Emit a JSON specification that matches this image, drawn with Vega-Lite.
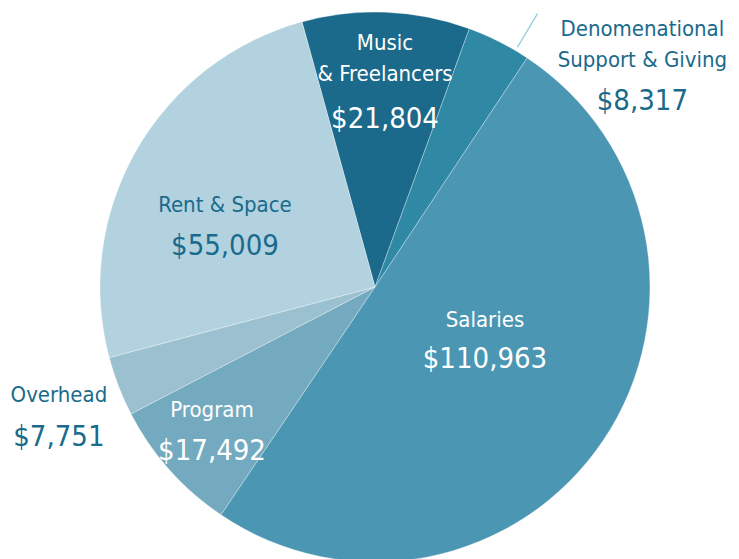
{
  "$schema": "https://vega.github.io/schema/vega-lite/v6.json",
  "width": 728,
  "height": 542,
  "autosize": {"type": "none"},
  "padding": {"left": 11, "top": 16, "right": 0, "bottom": 1},
  "background": "white",
  "config": {"view": {"stroke": null}, "text": {"font": "DejaVu Sans Condensed, Roboto, sans-serif"}},
  "data": {
    "values": [
      {"category": "Music", "label": "Music\n& Freelancers", "value": 21804, "rank": 1},
      {"category": "Denomenational", "label": "Denomenational\nSupport & Giving", "value": 8317, "rank": 2},
      {"category": "Salaries", "label": "Salaries", "value": 110963, "rank": 3},
      {"category": "Program", "label": "Program", "value": 17492, "rank": 4},
      {"category": "Overhead", "label": "Overhead", "value": 7751, "rank": 5},
      {"category": "Rent", "label": "Rent & Space", "value": 55009, "rank": 6}
    ]
  },
  "encoding": {
    "theta": {"field": "value", "type": "quantitative", "stack": true, "scale": {"range": [-0.2688, 6.0144]}},
    "order": {"field": "rank", "type": "quantitative"},
    "detail": {"field": "category", "type": "nominal"}
  },
  "layer": [
    {
      "mark": {"type": "arc", "outerRadius": 275, "stroke": "#ffffff", "strokeWidth": 0.6, "strokeOpacity": 0.5},
      "encoding": {
        "color": {
          "field": "category", "type": "nominal", "legend": null,
          "scale": {
            "domain": ["Music", "Denomenational", "Salaries", "Program", "Overhead", "Rent"],
            "range": ["#1b6a8c", "#2f89a5", "#4b96b3", "#74aabf", "#9bc1d0", "#b2d2df"]
          }
        }
      }
    },
    {
      "transform": [
        {"window": [{"op": "sum", "field": "value", "as": "cum"}], "sort": [{"field": "rank", "order": "ascending"}]},
        {"filter": "datum.rank === 2"}
      ],
      "mark": {"type": "arc", "outerRadius": 318, "innerRadius": 279, "fill": "transparent", "stroke": "#8fcbe3", "strokeWidth": 1.2, "thetaOffset": -0.05, "theta2Offset": -0.05},
      "encoding": {
        "theta": {"field": "cum", "type": "quantitative", "stack": null, "scale": {"range": [-0.2688, 6.0144]}},
        "theta2": {"field": "cum"}
      }
    },
    {
      "mark": {"type": "text", "radius": 197, "dx": 2, "dy": -40, "fontSize": 22, "lineBreak": "\n", "lineHeight": 31, "fill": "#ffffff", "align": "center", "baseline": "alphabetic"},
      "encoding": {"text": {"condition": {"test": "datum.rank === 1", "field": "label"}, "value": ""}}
    },
    {
      "mark": {"type": "text", "radius": 197, "dx": 2, "dy": 38, "fontSize": 29, "fill": "#ffffff", "align": "center", "baseline": "alphabetic"},
      "encoding": {"text": {"condition": {"test": "datum.rank === 1", "field": "value", "type": "quantitative", "format": "$,.0f"}, "value": ""}}
    },
    {
      "mark": {"type": "text", "radius": 260, "dx": 150, "dy": -19, "fontSize": 22, "lineBreak": "\n", "lineHeight": 31, "fill": "#1a6a8c", "align": "center", "baseline": "alphabetic"},
      "encoding": {"text": {"condition": {"test": "datum.rank === 2", "field": "label"}, "value": ""}}
    },
    {
      "mark": {"type": "text", "radius": 260, "dx": 150, "dy": 55, "fontSize": 29, "fill": "#1a6a8c", "align": "center", "baseline": "alphabetic"},
      "encoding": {"text": {"condition": {"test": "datum.rank === 2", "field": "value", "type": "quantitative", "format": "$,.0f"}, "value": ""}}
    },
    {
      "mark": {"type": "text", "radius": 132.4, "dx": 0, "dy": -34, "fontSize": 22, "fill": "#ffffff", "align": "center", "baseline": "alphabetic"},
      "encoding": {"text": {"condition": {"test": "datum.rank === 3", "field": "label"}, "value": ""}}
    },
    {
      "mark": {"type": "text", "radius": 132.4, "dx": 0, "dy": 7, "fontSize": 29, "fill": "#ffffff", "align": "center", "baseline": "alphabetic"},
      "encoding": {"text": {"condition": {"test": "datum.rank === 3", "field": "value", "type": "quantitative", "format": "$,.0f"}, "value": ""}}
    },
    {
      "mark": {"type": "text", "radius": 218.3, "dx": 0, "dy": -15, "fontSize": 22, "fill": "#ffffff", "align": "center", "baseline": "alphabetic"},
      "encoding": {"text": {"condition": {"test": "datum.rank === 4", "field": "label"}, "value": ""}}
    },
    {
      "mark": {"type": "text", "radius": 218.3, "dx": 0, "dy": 28, "fontSize": 29, "fill": "#ffffff", "align": "center", "baseline": "alphabetic"},
      "encoding": {"text": {"condition": {"test": "datum.rank === 4", "field": "value", "type": "quantitative", "format": "$,.0f"}, "value": ""}}
    },
    {
      "mark": {"type": "text", "radius": 339, "dx": 0, "dy": -7, "fontSize": 22, "fill": "#1a6a8c", "align": "center", "baseline": "alphabetic"},
      "encoding": {"text": {"condition": {"test": "datum.rank === 5", "field": "label"}, "value": ""}}
    },
    {
      "mark": {"type": "text", "radius": 339, "dx": 0, "dy": 37, "fontSize": 29, "fill": "#1a6a8c", "align": "center", "baseline": "alphabetic"},
      "encoding": {"text": {"condition": {"test": "datum.rank === 5", "field": "value", "type": "quantitative", "format": "$,.0f"}, "value": ""}}
    },
    {
      "mark": {"type": "text", "radius": 173, "dx": 0, "dy": 11, "fontSize": 22, "fill": "#1a6a8c", "align": "center", "baseline": "alphabetic"},
      "encoding": {"text": {"condition": {"test": "datum.rank === 6", "field": "label"}, "value": ""}}
    },
    {
      "mark": {"type": "text", "radius": 173, "dx": 0, "dy": 54, "fontSize": 29, "fill": "#1a6a8c", "align": "center", "baseline": "alphabetic"},
      "encoding": {"text": {"condition": {"test": "datum.rank === 6", "field": "value", "type": "quantitative", "format": "$,.0f"}, "value": ""}}
    }
  ]
}
